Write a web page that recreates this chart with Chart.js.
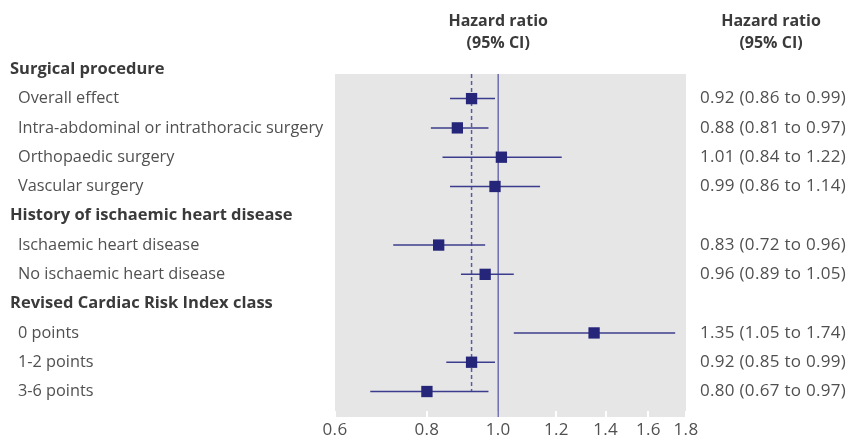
<!DOCTYPE html>
<html>
<head>
<meta charset="utf-8">
<title>Hazard ratio forest plot</title>
<script src="https://cdn.jsdelivr.net/npm/chart.js@4.4.0/dist/chart.umd.min.js"></script>
<style>
    html, body { margin: 0; padding: 0; background: #fff; }
    #wrap { width: 849px; height: 436px; position: relative; }
</style>
</head>
<body>
<div id="wrap"><canvas id="forestChart"></canvas></div>
<script>
// Rows from top to bottom; group headings are listed in headingRows
const rowLabels = [
    'Surgical procedure',
    'Overall effect',
    'Intra-abdominal or intrathoracic surgery',
    'Orthopaedic surgery',
    'Vascular surgery',
    'History of ischaemic heart disease',
    'Ischaemic heart disease',
    'No ischaemic heart disease',
    'Revised Cardiac Risk Index class',
    '0 points',
    '1-2 points',
    '3-6 points'
];
const headingRows = [0, 5, 8];

// Hazard ratio and 95% CI for each row (null on heading rows)
const hazardRatio = [null, 0.92, 0.88, 1.01, 0.99, null, 0.83, 0.96, null, 1.35, 0.92, 0.80];
const ciLower     = [null, 0.86, 0.81, 0.84, 0.86, null, 0.72, 0.89, null, 1.05, 0.85, 0.67];
const ciUpper     = [null, 0.99, 0.97, 1.22, 1.14, null, 0.96, 1.05, null, 1.74, 0.99, 0.97];

// Axis ticks and the pooled estimate shown as the dashed line
const xTicks = [0.6, 0.8, 1.0, 1.2, 1.4, 1.6, 1.8];
const overallEffect = 0.92;

const Y_MIN = 0.16;
const Y_MAX = 11.87;
const lastRow = rowLabels.length - 1;

const NAVY = '#25257a';
const LINE = '#3c3c8e';
const TEXT = '#505050';
const HEAD = '#3a3a3a';
const FONT = '"Open Sans", "Noto Sans", sans-serif';

// Build datasets
const datasets = [];

// Square markers for point estimates
datasets.push({
    type: 'scatter',
    data: hazardRatio.map((v, i) => v === null ? null : { x: v, y: i }).filter(p => p),
    pointStyle: 'rect',
    pointRadius: 8,
    backgroundColor: NAVY,
    borderWidth: 0,
    order: 0
});

// One horizontal segment per confidence interval
hazardRatio.forEach((v, i) => {
    if (v === null) return;
    datasets.push({
        type: 'line',
        data: [{ x: ciLower[i], y: i }, { x: ciUpper[i], y: i }],
        borderColor: LINE,
        borderWidth: 1.5,
        pointRadius: 0,
        order: 2
    });
});

// No-effect line at 1.0
datasets.push({
    type: 'line',
    data: [{ x: 1, y: Y_MIN }, { x: 1, y: Y_MAX }],
    borderColor: '#6e6eb0',
    borderWidth: 1.5,
    pointRadius: 0,
    order: 3
});

// Dashed line at the overall effect
datasets.push({
    type: 'line',
    data: [{ x: overallEffect, y: Y_MIN }, { x: overallEffect, y: lastRow }],
    borderColor: '#5a5aa2',
    borderWidth: 1.5,
    borderDash: [4, 3],
    pointRadius: 0,
    order: 3
});

// Grey panel plus small white tick marks at the bottom
const panelPlugin = {
    id: 'panel',
    beforeDatasetsDraw(chart) {
        const { ctx, chartArea, scales } = chart;
        ctx.save();
        ctx.fillStyle = '#e6e6e6';
        ctx.fillRect(chartArea.left, chartArea.top, chartArea.right - chartArea.left, chartArea.bottom - chartArea.top);
        ctx.fillStyle = '#ffffff';
        xTicks.forEach(t => {
            const px = Math.round(scales.x.getPixelForValue(t));
            ctx.fillRect(px - 1, chartArea.bottom - 6, 2, 6);
        });
        ctx.restore();
    }
};

// Row labels, estimate text, axis labels and column headings
const textPlugin = {
    id: 'forestText',
    afterDraw(chart) {
        const { ctx, scales, chartArea } = chart;
        const y = scales.y;
        ctx.save();
        ctx.textBaseline = 'middle';

        rowLabels.forEach((label, i) => {
            const py = y.getPixelForValue(i);
            const heading = headingRows.includes(i);
            ctx.textAlign = 'left';
            ctx.letterSpacing = '0px';
            ctx.fillStyle = heading ? HEAD : TEXT;
            ctx.font = (heading ? 'bold 16.5px ' : '16.3px ') + FONT;
            ctx.fillText(label, heading ? 10 : 18, py);

            if (hazardRatio[i] !== null) {
                ctx.font = '17px ' + FONT;
                ctx.letterSpacing = '0.3px';
                ctx.fillStyle = TEXT;
                const txt = hazardRatio[i].toFixed(2) + ' (' + ciLower[i].toFixed(2) + ' to ' + ciUpper[i].toFixed(2) + ')';
                ctx.fillText(txt, 700, py);
            }
        });

        // x axis tick labels, placed by the log scale
        ctx.letterSpacing = '0.3px';
        ctx.font = '17px ' + FONT;
        ctx.fillStyle = TEXT;
        ctx.textAlign = 'center';
        xTicks.forEach(t => {
            ctx.fillText(t.toFixed(1), scales.x.getPixelForValue(t), chartArea.bottom + 13);
        });

        // Column headings
        ctx.letterSpacing = '0px';
        ctx.font = 'bold 16px ' + FONT;
        ctx.fillStyle = HEAD;
        const midX = scales.x.getPixelForValue(1);
        ctx.fillText('Hazard ratio', midX, 21);
        ctx.fillText('(95% CI)', midX, 43);
        ctx.fillText('Hazard ratio', 771, 21);
        ctx.fillText('(95% CI)', 771, 43);
        ctx.restore();
    }
};

const ctx = document.getElementById('forestChart').getContext('2d');
new Chart(ctx, {
    data: { datasets: datasets },
    options: {
        responsive: true,
        maintainAspectRatio: false,
        animation: false,
        layout: { padding: { left: 335, right: 163, top: 74, bottom: 19 } },
        plugins: {
            legend: { display: false },
            tooltip: { enabled: false }
        },
        scales: {
            x: {
                type: 'logarithmic',
                position: 'bottom',
                display: false,
                min: 0.6,
                max: 1.8,
                afterBuildTicks(scale) {
                    scale.ticks = xTicks.map(v => ({ value: v }));
                }
            },
            y: {
                type: 'linear',
                reverse: true,
                min: Y_MIN,
                max: Y_MAX,
                display: false
            }
        }
    },
    plugins: [panelPlugin, textPlugin]
});
</script>
</body>
</html>
